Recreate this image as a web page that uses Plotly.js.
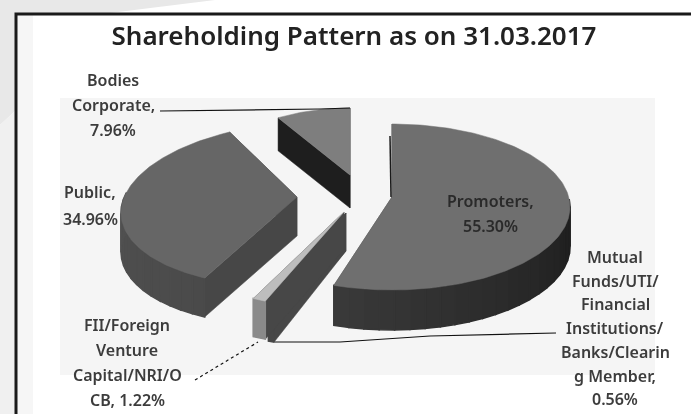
<!DOCTYPE html>
<html><head><meta charset="utf-8">
<script src="https://cdn.plot.ly/plotly-3.0.1.min.js"></script>
<style>html,body{margin:0;padding:0;background:#fff}#c{width:691px;height:414px;filter:blur(0.45px)}</style>
</head><body><div id="c"></div><script>
// Data, clockwise from 12 o'clock
const categories = ["Promoters","Mutual Funds/UTI/Financial Institutions/Banks/Clearing Member","FII/Foreign Venture Capital/NRI/OCB","Public","Bodies Corporate"];
const values = [55.30,0.56,1.22,34.96,7.96];
const titleText = "Shareholding Pattern as on 31.03.2017";

// Label text, one entry per printed line
const labelLines = [
  ["Promoters,","55.30%"],
  ["Mutual","Funds/UTI/","Financial","Institutions/","Banks/Clearin","g Member,","0.56%"],
  ["FII/Foreign","Venture","Capital/NRI/O","CB, 1.22%"],
  ["Public,","34.96%"],
  ["Bodies","Corporate,","7.96%"]
];

// Exploded-view geometry for each slice (pull position, squash, perspective lean, thickness)
const view = [
  {cx:392,cy:207,rx:178,ry:83,k:0,    apexDy:-10,depth:40,top:"#6f6f6f",wall:"#474747",rimA:"#4c4c4c",rimB:"#1d1d1d"},
  {cx:346,cy:222,rx:175,ry:87,k:-0.18,apexDy:-9,depth:38,top:"#474747",wall:"#474747",rimA:"#474747",rimB:"#474747"},
  {cx:344,cy:220,rx:178,ry:87,k:-0.18,apexDy:-8,depth:38,top:"#bdbdbd",wall:"#474747",rimA:"#8a8a8a",rimB:"#8a8a8a"},
  {cx:297,cy:204,rx:175,ry:82,k:-0.23,apexDy:-7,depth:39,top:"#666666",wall:"#474747",rimA:"#505050",rimB:"#3f3f3f"},
  {cx:350,cy:188,rx:150,ry:80,k:0,    apexDy:-13,depth:33,top:"#7e7e7e",wall:"#1e1e1e",rimA:"#222222",rimB:"#222222"}
];
const drawOrder = [4,3,1,2,0];

// Label anchor (centre x, first line y, line step)
const labelPos = [
  {x:490,y:201,step:25},
  {x:615,y:257,step:23.7},
  {x:127,y:325,step:25},
  {x:90,y:192,step:27},
  {x:113,y:80,step:25}
];
// Leader lines
const leaders = [
  {x:[160,250,320,350],y:[111,110,109,108],dash:"solid"},
  {x:[556,430,340,275],y:[333,336,342,342],dash:"solid"},
  {x:[195,258],y:[380,342],dash:"dot"}
];

function hex(c){return [1,3,5].map(i=>parseInt(c.slice(i,i+2),16));}
function mix(a,b,t){const A=hex(a),B=hex(b);return "rgb("+A.map((v,i)=>Math.round(v+(B[i]-v)*t)).join(",")+")";}
function rim(v,deg){const r=deg*Math.PI/180,dy=-Math.cos(r)*v.ry;return [v.cx+Math.sin(r)*v.rx+v.k*dy,v.cy+dy];}
function poly(pts,color,w){return {type:"scatter",mode:"lines",x:pts.map(p=>p[0]).concat(pts[0][0]),y:pts.map(p=>p[1]).concat(pts[0][1]),fill:"toself",fillcolor:color,line:{color:color,width:w||0.5},hoverinfo:"skip",showlegend:false};}

const total = values.reduce((a,b)=>a+b,0);
let acc=0; const spans=values.map(v=>{const s=acc/total*360;acc+=v;return [s,acc/total*360];});
const traces=[];
drawOrder.forEach(i=>{
  const v=view[i],[a,b]=spans[i],d=v.depth;
  const apex=[v.cx,v.cy+v.apexDy];
  const drop=p=>[p[0],p[1]+d];
  const pa=rim(v,a),pb=rim(v,b);
  // cut faces
  traces.push(poly([apex,pb,drop(pb),drop(apex)],v.wall));
  traces.push(poly([apex,pa,drop(pa),drop(apex)],v.wall));
  // outer rim wall, shaded along its length
  const n=Math.max(1,Math.ceil((b-a)/5));
  for(let j=0;j<n;j++){
    const t0=a+(b-a)*j/n,t1=a+(b-a)*(j+1)/n;
    if(t1<85||t0>275)continue;
    const p0=rim(v,t0),p1=rim(v,t1);
    const shade=Math.max(0,Math.min(1,(90+180-(t0+t1)/2)/180));
    traces.push(poly([p0,p1,drop(p1),drop(p0)],mix(v.rimA,v.rimB,shade),1.5));
  }
  // top face
  const top=[apex];
  const m=Math.max(2,Math.ceil(b-a));
  for(let j=0;j<=m;j++)top.push(rim(v,a+(b-a)*j/m));
  traces.push(poly(top,v.top));
});
// dark sliver on the upper cut edge of the largest slice
{const v=view[0],p=rim(v,spans[0][0]);
 traces.push({type:"scatter",mode:"lines",x:[v.cx-1,p[0]-2],y:[v.cy+v.apexDy,p[1]+12],line:{color:"#1a1a1a",width:1.5},hoverinfo:"skip",showlegend:false});}
leaders.forEach(l=>traces.push({type:"scatter",mode:"lines",x:l.x,y:l.y,line:{color:"#111",width:1.2,dash:l.dash},hoverinfo:"skip",showlegend:false}));

const annotations=[];
labelLines.forEach((lines,i)=>lines.forEach((t,j)=>annotations.push({
  x:labelPos[i].x,y:labelPos[i].y+j*labelPos[i].step,xref:"x",yref:"y",text:t,showarrow:false,xanchor:"center",yanchor:"middle",
  font:{family:"Noto Sans, Open Sans, sans-serif",size:16,color:i===0?"#2a2a2a":"#3c3c3c",weight:600}
})));

const shapes=[
  {type:"path",layer:"below",path:"M0,0 L215,0 L110,13 L16,13 L16,110 L0,125 Z",fillcolor:"#e8e8e8",line:{width:0}},
  {type:"path",layer:"below",path:"M0,125 L16,110 L16,414 L0,414 Z",fillcolor:"#f0f0f0",line:{width:0}},
  {type:"rect",layer:"below",x0:17,y0:15,x1:33,y1:414,fillcolor:"#f6f6f6",line:{width:0}},
  {type:"rect",layer:"below",x0:60,y0:98,x1:655,y1:375,fillcolor:"#f5f5f5",line:{width:0}},
  {type:"path",layer:"below",path:"M691,14 L16,14 L16,414",fillcolor:"rgba(0,0,0,0)",line:{color:"#1a1a1a",width:3}}
];

Plotly.newPlot("c",traces,{
  width:691,height:414,margin:{l:0,r:0,t:0,b:0},paper_bgcolor:"#fff",plot_bgcolor:"rgba(0,0,0,0)",showlegend:false,
  title:{text:titleText,x:354/691,xanchor:"center",y:1-36/414,yanchor:"middle",font:{family:"Noto Sans, Open Sans, sans-serif",size:26,color:"#222",weight:600}},
  xaxis:{range:[0,691],visible:false,fixedrange:true},
  yaxis:{range:[414,0],visible:false,fixedrange:true},
  annotations,shapes
},{displayModeBar:false,staticPlot:true});
</script></body></html>
